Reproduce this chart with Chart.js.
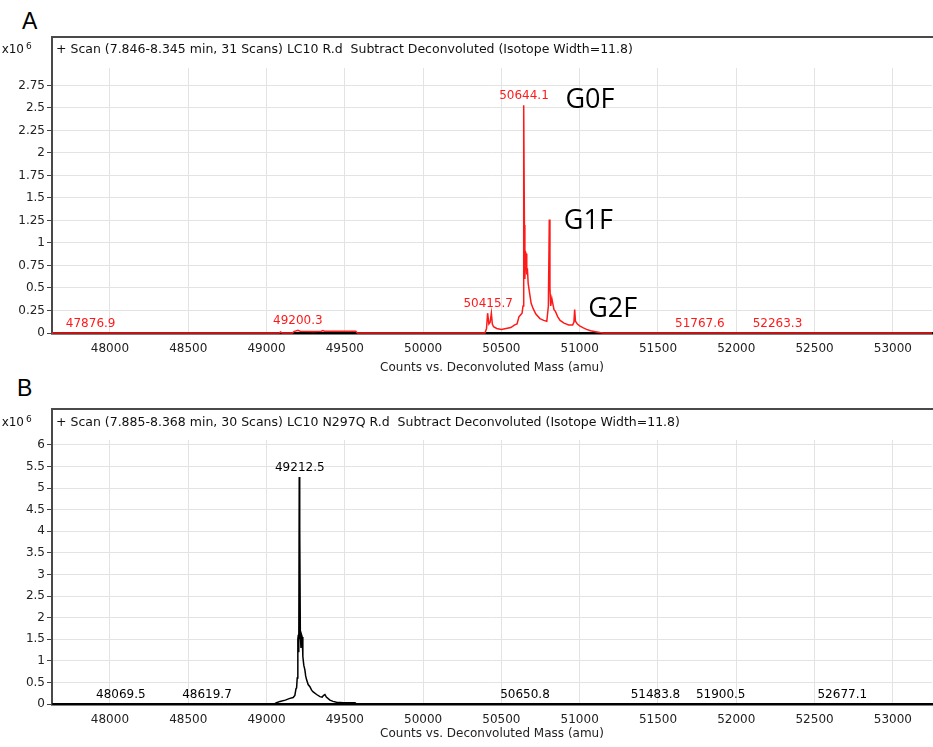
<!DOCTYPE html>
<html><head><meta charset="utf-8">
<script src="https://cdn.jsdelivr.net/npm/chart.js@4/dist/chart.umd.min.js"></script>
<style>
body{margin:0;background:#fff;width:933px;height:747px;overflow:hidden;position:relative}
canvas{position:absolute;left:0}
#cA{top:0}
#cB{top:372px}
.panel{position:absolute;font-family:"Liberation Sans",Arial,sans-serif;font-size:23px;line-height:1;color:#000}
</style></head><body>
<div class="panel" style="left:22px;top:10px">A</div>
<div class="panel" style="left:17px;top:377px">B</div>
<canvas id="cA" width="933" height="375"></canvas>
<canvas id="cB" width="933" height="375"></canvas>
<script>
// ---- tick labels ----
const xTicks = [48000,48500,49000,49500,50000,50500,51000,51500,52000,52500,53000];
const yTicksA = [0,0.25,0.5,0.75,1,1.25,1.5,1.75,2,2.25,2.5,2.75];
const yTicksB = [0,0.5,1,1.5,2,2.5,3,3.5,4,4.5,5,5.5,6];

// ---- panel A : counts (x10^6) vs deconvoluted mass ----
const massA = [47630,48500,49080,49090,49100,49165,49175,49200,49215,49300,49350,49360,49370,49570,49580,
  50395,50405,50412,50420,50428,50436,50442,50450,50470,50500,50530,50560,50585,50600,50612,50622,50632,
  50638,50641,50644,50647,50650,50654,50658,50662,50666,50671,50676,50682,50690,50703,50720,50746,50770,50790,
  50800,50806,50810,50815,50822,50828,50836,50845,50860,50875,50900,50930,50955,50963,50968,50973,50985,
  51000,51020,51044,51070,51100,51130,51150,53250];
const intensityA = [0,0,0,0.012,0,0,0.015,0.03,0.02,0.018,0.02,0.028,0.02,0.02,0,
  0,0.05,0.22,0.1,0.12,0.22,0.1,0.07,0.05,0.04,0.05,0.06,0.09,0.1,0.18,0.2,0.22,
  0.3,1.0,2.53,1.2,0.6,0.9,0.88,0.65,0.72,0.55,0.55,0.42,0.33,0.27,0.21,0.16,0.14,0.13,
  0.3,1.26,0.5,0.3,0.385,0.33,0.26,0.24,0.18,0.14,0.11,0.09,0.09,0.12,0.26,0.13,0.1,
  0.08,0.06,0.04,0.025,0.015,0.005,0,0];
const peakMassA = [47876.9,49200.3,50415.7,50644.1,51767.6,52263.3];
const peakHeightA = [0,0.03,0.22,2.53,0,0];
const glycoNames = ['G0F','G1F','G2F'];
const glycoMass = [50644.1,50806,50968];
const glycoHeight = [2.53,1.26,0.26];

// ---- panel B ----
const massB = [47630,48500,49050,49064,49086,49120,49149,49170,49181,49188,49192,49196,49200,49203,49206,
  49209,49211,49213,49216,49220,49224,49228,49232,49238,49245,49250,49256,49266,49277,49288,49298,49320,
  49341,49355,49365,49373,49382,49405,49425,49447,49490,49565,49575,53250];
const intensityB = [0,0,0,0.03,0.06,0.09,0.13,0.15,0.2,0.35,0.37,0.6,1.5,1.6,1.2,
  5.26,1.5,4.1,1.6,1.3,1.6,1.55,1.1,0.9,0.79,0.65,0.56,0.45,0.4,0.32,0.28,0.22,
  0.17,0.16,0.2,0.22,0.16,0.09,0.06,0.04,0.03,0.03,0,0];
const peakMassB = [48069.5,48619.7,49212.5,50650.8,51483.8,51900.5,52677.1];
const peakHeightB = [0,0,5.26,0,0,0,0];

const FONT = "'DejaVu Sans', sans-serif";

const framePlugin = {
  id: 'frame',
  afterDraw(chart, args, o) {
    const {ctx, chartArea: a} = chart;
    ctx.save();
    ctx.strokeStyle = '#4a4a4a'; ctx.lineWidth = 2;
    ctx.beginPath();
    ctx.moveTo(a.left - 1, o.boxTop); ctx.lineTo(chart.width, o.boxTop);
    ctx.moveTo(a.left, o.boxTop); ctx.lineTo(a.left, a.top);
    ctx.stroke();
    ctx.fillStyle = '#111'; ctx.font = '12.5px ' + FONT; ctx.textBaseline = 'middle';
    ctx.textAlign = 'left';
    ctx.fillText(o.header, a.left + 4, o.headerY);
    ctx.font = '12px ' + FONT;
    ctx.textAlign = 'right';
    ctx.fillText('x10', a.left - 28, o.headerY);
    ctx.font = '9px ' + FONT; ctx.textAlign = 'left';
    ctx.fillText('6', a.left - 26, o.headerY - 3);
    ctx.restore();
  },
  afterDatasetsDraw(chart, args, o) {
    const {ctx} = chart;
    const xs = chart.scales.x, ys = chart.scales.y;
    ctx.save();
    ctx.font = '12px ' + FONT; ctx.textAlign = 'center'; ctx.textBaseline = 'middle';
    ctx.fillStyle = o.labelColor;
    o.peakMass.forEach((m, i) => {
      ctx.fillText(m.toFixed(1), xs.getPixelForValue(m), ys.getPixelForValue(o.peakHeight[i]) - 9);
    });
    if (o.glyco) {
      ctx.fillStyle = '#000'; ctx.font = "27px 'Open Sans', 'Noto Sans', sans-serif";
      o.glyco.names.forEach((n, i) => {
        const off = o.glyco.offsets[i];
        ctx.fillText(n, xs.getPixelForValue(o.glyco.mass[i]) + off[0], ys.getPixelForValue(o.glyco.height[i]) + off[1]);
      });
    }
    ctx.restore();
  }
};

function makeChart(id, mass, inten, color, yTicks, yMax, frameOpts, titlePadBottom) {
  return new Chart(document.getElementById(id), {
    type: 'line',
    data: { datasets: [{
      data: mass.map((m, i) => ({x: m, y: inten[i]})),
      borderColor: color, borderWidth: 1.5, pointRadius: 0, tension: 0, fill: false, clip: false
    }]},
    options: {
      responsive: false, animation: false, events: [],
      layout: {padding: {top: 68, left: 0, right: 1, bottom: 0}},
      plugins: {legend: {display: false}, tooltip: {enabled: false}, frame: frameOpts},
      scales: {
        x: {
          type: 'linear', min: 47630, max: 53250,
          afterBuildTicks: s => { s.ticks = xTicks.map(v => ({value: v})); },
          afterFit: s => { s.height = 375 - frameOpts.plotBottom; },
          grid: {color: '#e3e3e3', drawTicks: false},
          border: {color: '#000', width: 2.5},
          ticks: {font: {family: FONT, size: 12}, color: '#222', padding: 9, maxRotation: 0, autoSkip: false, callback: v => String(v)},
          title: {display: true, text: 'Counts vs. Deconvoluted Mass (amu)', font: {family: FONT, size: 12}, color: '#222', padding: {top: 0, bottom: titlePadBottom}}
        },
        y: {
          min: 0, max: yMax,
          afterBuildTicks: s => { s.ticks = yTicks.map(v => ({value: v})); },
          afterFit: s => { s.width = 52; },
          grid: {color: '#e3e3e3', tickLength: 5, tickColor: '#444'},
          border: {color: '#4a4a4a', width: 2},
          ticks: {font: {family: FONT, size: 12}, color: '#222', padding: 2, callback: v => String(v)}
        }
      }
    },
    plugins: [framePlugin]
  });
}

makeChart('cA', massA, intensityA, '#ff1a1a', yTicksA, 2.944, {
  plotBottom: 333, boxTop: 37, headerY: 50,
  header: '+ Scan (7.846-8.345 min, 31 Scans) LC10 R.d  Subtract Deconvoluted (Isotope Width=11.8)',
  peakMass: peakMassA, peakHeight: peakHeightA, labelColor: '#ff1a1a',
  glyco: {names: glycoNames, mass: glycoMass, height: glycoHeight, offsets: [[66,-5],[39,2],[38,0]]}
}, 0);

makeChart('cB', massB, intensityB, '#000', yTicksB, 6.115, {
  plotBottom: 332, boxTop: 37, headerY: 51,
  header: '+ Scan (7.885-8.368 min, 30 Scans) LC10 N297Q R.d  Subtract Deconvoluted (Isotope Width=11.8)',
  peakMass: peakMassB, peakHeight: peakHeightB, labelColor: '#000'
}, 6);
</script></body></html>
